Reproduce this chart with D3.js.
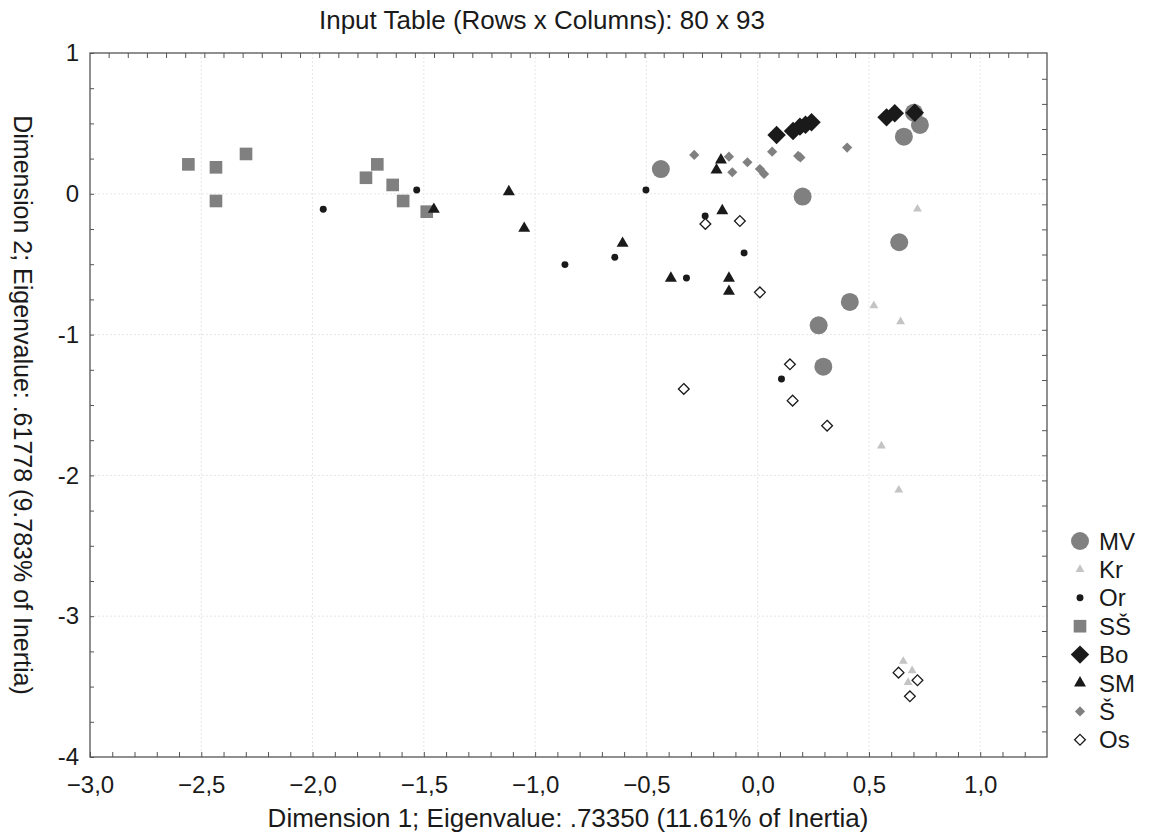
<!DOCTYPE html>
<html>
  <head>
    <meta charset="utf-8">
    <script src="https://d3js.org/d3.v7.min.js"></script>
    <style>
      body { margin: 0; background: #fff; }
      text { font-family: "Liberation Sans", Arial, sans-serif; fill: #1a1a1a; }
    </style>
  </head>
<body>
<script type="text/javascript">
  "use strict";

  // series in legend order (Dimension 1, Dimension 2)
  var seriesNames = ["MV", "Kr", "Or", "SŠ", "Bo", "SM", "Š", "Os"];

  var mvX = [-0.435, 0.202, 0.657, 0.729, 0.702, 0.636, 0.414, 0.274, 0.295];
  var mvY = [0.176, -0.020, 0.406, 0.489, 0.576, -0.344, -0.768, -0.934, -1.228];

  var krX = [0.718, 0.522, 0.642, 0.556, 0.634, 0.654, 0.694, 0.676];
  var krY = [-0.108, -0.795, -0.908, -1.791, -2.104, -3.320, -3.387, -3.470];

  var orX = [-1.952, -1.532, -0.866, -0.642, -0.502, -0.320, -0.236, -0.061, 0.107];
  var orY = [-0.110, 0.027, -0.503, -0.451, 0.027, -0.598, -0.158, -0.420, -1.315];

  var ssX = [-2.558, -2.434, -2.299, -2.434, -1.760, -1.709, -1.640, -1.593, -1.487];
  var ssY = [0.209, 0.188, 0.283, -0.051, 0.114, 0.209, 0.063, -0.051, -0.127];

  var boX = [0.085, 0.159, 0.190, 0.215, 0.242, 0.579, 0.616, 0.706];
  var boY = [0.418, 0.446, 0.477, 0.490, 0.508, 0.543, 0.572, 0.576];

  var smX = [-1.455, -1.118, -1.049, -0.607, -0.390, -0.185, -0.165, -0.159, -0.129, -0.129];
  var smY = [-0.110, 0.015, -0.245, -0.352, -0.600, 0.169, 0.240, -0.120, -0.600, -0.693];

  var sX = [-0.285, -0.129, -0.114, -0.046, 0.010, 0.029, 0.065, 0.182, 0.192, 0.402];
  var sY = [0.276, 0.264, 0.153, 0.224, 0.176, 0.141, 0.299, 0.269, 0.258, 0.328];

  var osX = [-0.235, -0.080, 0.010, -0.332, 0.145, 0.157, 0.312, 0.633, 0.718, 0.684];
  var osY = [-0.214, -0.193, -0.700, -1.386, -1.211, -1.469, -1.647, -3.401, -3.455, -3.569];

  var xTicks = [-3.0, -2.5, -2.0, -1.5, -1.0, -0.5, 0.0, 0.5, 1.0];
  var yTicks = [1, 0, -1, -2, -3, -4];

  // square rotated 45 degrees, like the Statistica diamond
  var diamond = {
    draw: function (ctx, size) {
      var r = Math.sqrt(size / 2);
      ctx.moveTo(0, -r); ctx.lineTo(r, 0); ctx.lineTo(0, r); ctx.lineTo(-r, 0); ctx.closePath();
    }
  };

  var styles = {
    "MV": { type: d3.symbolCircle, size: 254, fill: "#808080", stroke: "none" },
    "Kr": { type: d3.symbolTriangle, size: 34, fill: "#c4c4c4", stroke: "none" },
    "Or": { type: d3.symbolCircle, size: 38, fill: "#1a1a1a", stroke: "none" },
    "SŠ": { type: d3.symbolSquare, size: 160, fill: "#808080", stroke: "none" },
    "Bo": { type: diamond, size: 170, fill: "#1a1a1a", stroke: "none" },
    "SM": { type: d3.symbolTriangle, size: 62, fill: "#1a1a1a", stroke: "none" },
    "Š":  { type: diamond, size: 52, fill: "#808080", stroke: "none" },
    "Os": { type: diamond, size: 58, fill: "#ffffff", stroke: "#1a1a1a" }
  };

  var cols = {
    "MV": [mvX, mvY], "Kr": [krX, krY], "Or": [orX, orY], "SŠ": [ssX, ssY],
    "Bo": [boX, boY], "SM": [smX, smY], "Š": [sX, sY], "Os": [osX, osY]
  };

  var data = [];
  seriesNames.forEach(function (name) {
    var c = cols[name];
    c[0].forEach(function (v, i) { data.push({ series: name, x: v, y: c[1][i] }); });
  });

  var width = 1157, height = 838;
  var pLeft = 90, pRight = 1047, pTop = 53, pBottom = 757;

  var svg = d3.select("body")
    .append("svg")
      .attr("width", width)
      .attr("height", height);

  var x = d3.scaleLinear().domain([-3.0, 1.3]).range([pLeft, pRight]);
  var y = d3.scaleLinear().domain([-4, 1]).range([pBottom, pTop]);

  // faint dotted grid at the labelled values
  svg.append("g").selectAll("line")
    .data(xTicks.slice(1))
    .enter().append("line")
      .attr("x1", function (d) { return x(d); })
      .attr("x2", function (d) { return x(d); })
      .attr("y1", pTop).attr("y2", pBottom)
      .style("stroke", "#e6e6e6")
      .style("stroke-dasharray", "2,2");

  svg.append("g").selectAll("line")
    .data(yTicks.slice(1, -1))
    .enter().append("line")
      .attr("y1", function (d) { return y(d); })
      .attr("y2", function (d) { return y(d); })
      .attr("x1", pLeft).attr("x2", pRight)
      .style("stroke", "#e6e6e6")
      .style("stroke-dasharray", "2,2");

  // bottom axis: minor ticks every 0.1, pointing inward
  var xAxis = d3.axisBottom(x)
    .tickValues(d3.range(-30, 13).map(function (i) { return i / 10; }))
    .tickSize(-5)
    .tickFormat(function (d) {
      return xTicks.some(function (t) { return Math.abs(t - d) < 1e-9; }) ? d3.format(".1f")(d).replace(".", ",") : "";
    });
  var gx = svg.append("g").attr("transform", "translate(0," + pBottom + ")").call(xAxis);

  // left axis: ticks every 0.25
  var yAxis = d3.axisLeft(y)
    .tickValues(d3.range(-16, 5).map(function (i) { return i / 4; }))
    .tickSize(-4)
    .tickFormat(function (d) { return Number.isInteger(d) ? d : ""; });
  var gy = svg.append("g").attr("transform", "translate(" + pLeft + ",0)").call(yAxis);

  [gx, gy].forEach(function (g) {
    g.select(".domain").remove();
    g.selectAll(".tick line").style("stroke", "#555");
    g.selectAll("text").style("font-size", "24px").style("fill", "#1a1a1a");
  });
  gx.selectAll("text").attr("dy", null).attr("y", 36);
  gy.selectAll("text").attr("x", -11);

  // top and right axes carry their own unlabelled ticks
  svg.append("g").selectAll("line")
    .data(d3.range(1, 50))
    .enter().append("line")
      .attr("x1", function (d) { return pLeft + d * (pRight - pLeft) / 50; })
      .attr("x2", function (d) { return pLeft + d * (pRight - pLeft) / 50; })
      .attr("y1", pTop).attr("y2", pTop + 5)
      .style("stroke", "#555");

  svg.append("g").selectAll("line")
    .data(d3.range(1, 28))
    .enter().append("line")
      .attr("y1", function (d) { return pBottom - d * 25.1; })
      .attr("y2", function (d) { return pBottom - d * 25.1; })
      .attr("x1", pRight).attr("x2", pRight - 5)
      .style("stroke", "#555");

  svg.append("rect")
    .attr("x", pLeft).attr("y", pTop)
    .attr("width", pRight - pLeft).attr("height", pBottom - pTop)
    .style("fill", "none")
    .style("stroke", "#555")
    .style("stroke-width", 1.3);

  // the points, one series after the other
  svg.append("g").selectAll("path")
    .data(data)
    .enter().append("path")
      .attr("transform", function (d) { return "translate(" + x(d.x) + "," + y(d.y) + ")"; })
      .attr("d", function (d) { return d3.symbol(styles[d.series].type, styles[d.series].size)(); })
      .style("fill", function (d) { return styles[d.series].fill; })
      .style("stroke", function (d) { return styles[d.series].stroke; })
      .style("stroke-width", 1.3);

  // legend
  var legend = svg.append("g").selectAll("g")
    .data(seriesNames)
    .enter().append("g")
      .attr("transform", function (d, i) { return "translate(1080," + (541 + i * 28.4) + ")"; });

  legend.append("path")
    .attr("d", function (d) { return d3.symbol(styles[d].type, styles[d].size)(); })
    .style("fill", function (d) { return styles[d].fill; })
    .style("stroke", function (d) { return styles[d].stroke; })
    .style("stroke-width", 1.3);

  legend.append("text")
    .attr("x", 19)
    .attr("dy", "0.36em")
    .style("font-size", "24px")
    .text(function (d) { return d; });

  // titles
  svg.append("text")
    .attr("x", 542).attr("y", 29)
    .attr("text-anchor", "middle")
    .style("font-size", "26px")
    .text("Input Table (Rows x Columns): 80 x 93");

  svg.append("text")
    .attr("x", 568).attr("y", 827)
    .attr("text-anchor", "middle")
    .style("font-size", "26px")
    .text("Dimension 1; Eigenvalue: .73350 (11.61% of Inertia)");

  svg.append("text")
    .attr("transform", "translate(14," + 405 + ") rotate(90)")
    .attr("text-anchor", "middle")
    .style("font-size", "25px")
    .text("Dimension 2; Eigenvalue: .61778 (9.783% of Inertia)");
</script>
</body>
</html>
